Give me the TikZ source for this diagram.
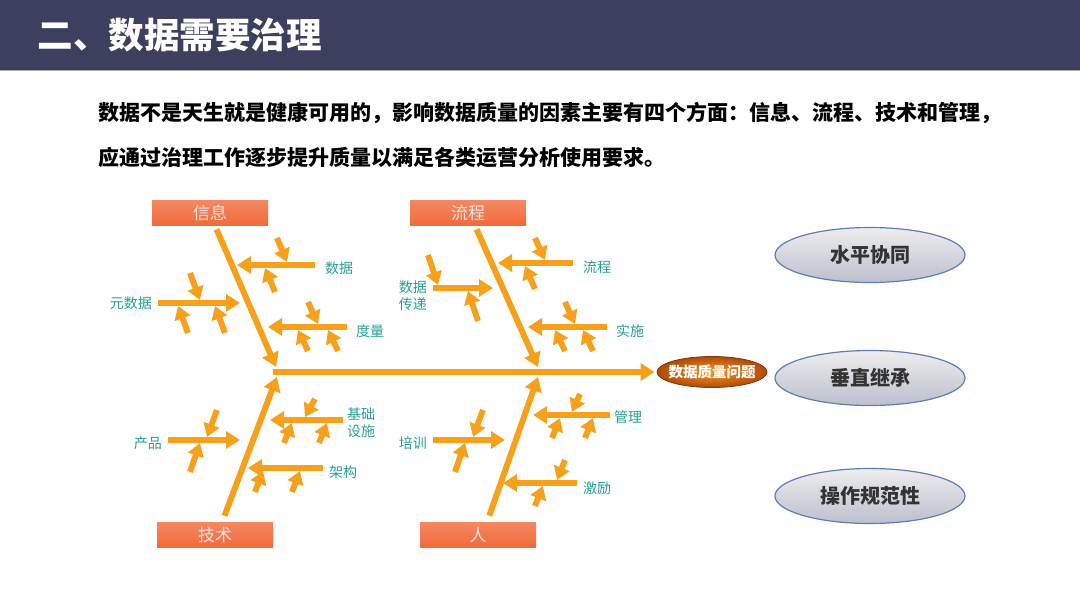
\documentclass[tikz,border=0pt]{standalone}
\usepackage{fontspec}
\usetikzlibrary{arrows.meta,shapes.geometric,positioning}
\newfontfamily\cjk{Noto Sans CJK SC}
\definecolor{band}{RGB}{61,63,94}
\definecolor{boneor}{RGB}{247,160,28}
\definecolor{catfill}{RGB}{242,106,58}
\definecolor{labteal}{RGB}{40,158,148}
\definecolor{goalline}{RGB}{95,125,180}
\definecolor{headin}{RGB}{248,150,35}
\definecolor{headout}{RGB}{175,75,10}
\tikzset{
  bone/.style={draw=boneor, line width=6pt, -{Triangle[width=17pt,length=14pt]}},
  tick/.style={draw=boneor, line width=6pt, -{Triangle[width=16pt,length=13pt]}},
  cat/.style={rectangle, top color=catfill!80!white, bottom color=catfill, minimum width=116pt, minimum height=25pt, inner sep=0pt, text=white!90!black, font=\cjk\fontsize{17}{17}\selectfont},
  lab/.style={text=labteal, font=\cjk\fontsize{14}{17}\selectfont, align=center, inner sep=1pt},
  head/.style={ellipse, inner sep=0pt, minimum width=110pt, minimum height=31pt, inner color=headin, outer color=headout, draw=headout!70!black, line width=0.8pt},
  goal/.style={ellipse, draw=goalline, line width=1.2pt, top color=black!7, bottom color={rgb,255:red,188;green,192;blue,206}, minimum width=190pt, minimum height=55pt, inner sep=0pt, text=black!80, font=\cjk\bfseries\fontsize{20}{20}\selectfont}
}
\begin{document}
\begin{tikzpicture}[x=1pt,y=-1pt]
\useasboundingbox (0,0) rectangle (1080,608);
% testata
\fill[band] (0,0) rectangle (1080,70);
\draw[band!45!white, line width=1pt] (0,70.5) -- (1080,70.5);
\node[anchor=west, text=white, font=\cjk\bfseries\fontsize{35.5}{36}\selectfont] (title) at (34,35) {二、数据需要治理};
% testo
\node[anchor=west, font=\cjk\bfseries\fontsize{21}{21}\selectfont] (line1) at (95,113) {数据不是天生就是健康可用的，影响数据质量的因素主要有四个方面：信息、流程、技术和管理，};
\node[anchor=west, font=\cjk\bfseries\fontsize{21}{21}\selectfont] (line2) at (95,158) {应通过治理工作逐步提升质量以满足各类运营分析使用要求。};
% categorie
\node[cat] (info) at (210,213) {信息};
\node[cat] (flow) at (468,213) {流程};
\node[cat] (tech) at (215,535) {技术};
\node[cat] (ppl) at (478,535) {人};
% testa del pesce
\node[head] (head) at (712,372) {};
\node[text=white, font=\cjk\bfseries\fontsize{14.5}{15}\selectfont, inner sep=0pt] (headtxt) at (head.center) {数据质量问题};
% spina e lische
\coordinate (s0) at (273,372);
\coordinate (i1) at (276,367);\coordinate (f1) at (538,367);
\coordinate (t1) at (277,377);\coordinate (p1) at (538,377);
\draw[bone] (s0) -- ([xshift=-2pt]head.west);
\draw[bone, shorten <=4pt] ([xshift=5pt]info.south) -- (i1);
\draw[bone, shorten <=4pt] ([xshift=7pt]flow.south) -- (f1);
\draw[bone, shorten <=7pt] ([xshift=7pt]tech.north) -- (t1);
\draw[bone, shorten <=7pt] ([xshift=9pt]ppl.north) -- (p1);
% lische secondarie - info
\coordinate (a1s) at (315,265);\coordinate (a1e) at (237,265);
\coordinate (a2s) at (158,303);\coordinate (a2e) at (240,303);
\coordinate (a3s) at (347,327);\coordinate (a3e) at (268,327);
\draw[bone] (a1s) -- (a1e);\draw[bone] (a2s) -- (a2e);\draw[bone] (a3s) -- (a3e);
\draw[tick] ([shift={(40,-27)}]a1e) -- ++(10,24);\draw[tick] ([shift={(38,27)}]a1e) -- ++(-10,-24);
\draw[tick] ([shift={(-50,-30)}]a2e) -- ++(10,27);\draw[tick] ([shift={(-52,30)}]a2e) -- ++(-10,-27);\draw[tick] ([shift={(-15,30)}]a2e) -- ++(-10,-27);
\draw[tick] ([shift={(40,-25)}]a3e) -- ++(10,22);\draw[tick] ([shift={(40,24)}]a3e) -- ++(-10,-21);\draw[tick] ([shift={(70,24)}]a3e) -- ++(-10,-21);
\node[lab, right=9pt of a1s, yshift=-3pt] (l1) {数据};
\node[lab, left=5pt of a2s] (l2) {元数据};
\node[lab, right=8pt of a3s, yshift=-4pt] (l3) {度量};
% lische secondarie - flow
\coordinate (b1s) at (573,263);\coordinate (b1e) at (498,263);
\coordinate (b2s) at (433,288);\coordinate (b2e) at (493,288);
\coordinate (b3s) at (607,327);\coordinate (b3e) at (528,327);
\draw[bone] (b1s) -- (b1e);\draw[bone] (b2s) -- (b2e);\draw[bone] (b3s) -- (b3e);
\draw[tick] ([shift={(37,-25)}]b1e) -- ++(10,22);\draw[tick] ([shift={(37,26)}]b1e) -- ++(-10,-23);
\draw[tick] ([shift={(-65,-33)}]b2e) -- ++(10,30);\draw[tick] ([shift={(-15,33)}]b2e) -- ++(-10,-30);
\draw[tick] ([shift={(37,-25)}]b3e) -- ++(10,22);\draw[tick] ([shift={(37,24)}]b3e) -- ++(-10,-21);\draw[tick] ([shift={(65,24)}]b3e) -- ++(-10,-21);
\node[lab, right=9pt of b1s, yshift=-4pt] (l4) {流程};
\node[lab, left=5pt of b2s, yshift=-8pt] (l5) {数据\\传递};
\node[lab, right=8pt of b3s, yshift=-4pt] (l6) {实施};
% lische secondarie - tech
\coordinate (c1s) at (168,440);\coordinate (c1e) at (240,440);
\coordinate (c2s) at (343,420);\coordinate (c2e) at (270,420);
\coordinate (c3s) at (323,468);\coordinate (c3e) at (248,468);
\draw[bone] (c1s) -- (c1e);\draw[bone] (c2s) -- (c2e);\draw[bone] (c3s) -- (c3e);
\draw[tick] ([shift={(-23,-30)}]c1e) -- ++(-10,27);\draw[tick] ([shift={(-50,32)}]c1e) -- ++(10,-29);
\draw[tick] ([shift={(45,-21)}]c2e) -- ++(-10,18);\draw[tick] ([shift={(14,23)}]c2e) -- ++(8,-20);\draw[tick] ([shift={(49,23)}]c2e) -- ++(8,-20);
\draw[tick] ([shift={(7,24)}]c3e) -- ++(8,-21);\draw[tick] ([shift={(44,24)}]c3e) -- ++(8,-21);
\node[lab, left=5pt of c1s, yshift=-3pt] (l7) {产品};
\node[lab, right=3pt of c2s, yshift=-3pt] (l8) {基础\\设施};
\node[lab, right=5pt of c3s, yshift=-4pt] (l9) {架构};
% lische secondarie - ppl
\coordinate (d1s) at (610,415);\coordinate (d1e) at (533,415);
\coordinate (d2s) at (433,440);\coordinate (d2e) at (505,440);
\coordinate (d3s) at (577,483);\coordinate (d3e) at (503,483);
\draw[bone] (d1s) -- (d1e);\draw[bone] (d2s) -- (d2e);\draw[bone] (d3s) -- (d3e);
\draw[tick] ([shift={(47,-21)}]d1e) -- ++(-8,18);\draw[tick] ([shift={(19,23)}]d1e) -- ++(8,-20);\draw[tick] ([shift={(52,23)}]d1e) -- ++(8,-20);
\draw[tick] ([shift={(-22,-30)}]d2e) -- ++(-10,27);\draw[tick] ([shift={(-50,32)}]d2e) -- ++(10,-29);
\draw[tick] ([shift={(62,-23)}]d3e) -- ++(-8,20);\draw[tick] ([shift={(32,23)}]d3e) -- ++(8,-20);
\node[lab, right=3pt of d1s, yshift=-2pt] (l10) {管理};
\node[lab, left=5pt of d2s, yshift=-3pt] (l11) {培训};
\node[lab, right=5pt of d3s, yshift=-5pt] (l12) {激励};
% ellissi a destra
\node[goal] (g1) at (870,255) {水平协同};
\node[goal] (g2) at (870,378) {垂直继承};
\node[goal] (g3) at (870,496) {操作规范性};
\end{tikzpicture}
\end{document}
